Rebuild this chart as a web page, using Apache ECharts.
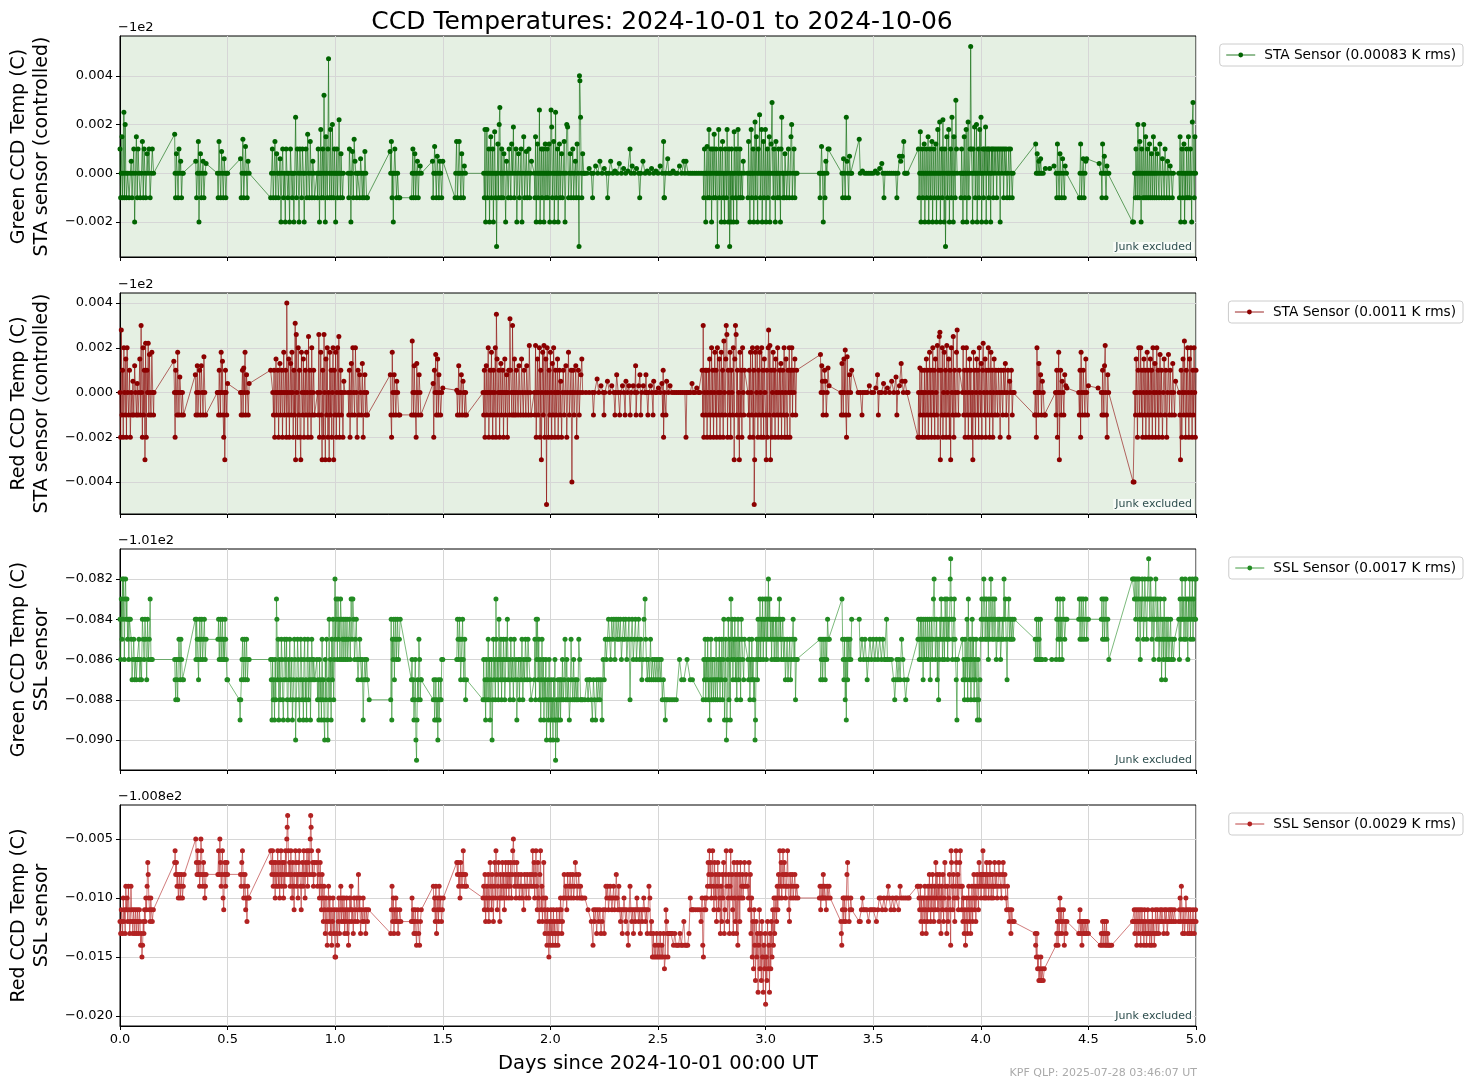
<!DOCTYPE html>
<html>
<head>
<meta charset="utf-8">
<title>CCD Temperatures</title>
<script src="https://cdn.jsdelivr.net/npm/echarts@6.0.0/dist/echarts.min.js"></script>
<style>
  html, body { margin: 0; padding: 0; background: #fff; }
  #chart { width: 1469px; height: 1089px; }
</style>
</head>
<body>
<div id="chart"></div>
<script>
// values are [days, offset in mK] ; the offset is relative to the axis offset text (-1e2, -1e2, -1.01e2, -1.008e2)
const greenStaData = [
  [0.000,1],[0.003,-1],[0.006,0],[0.009,1.5],[0.012,-1],[0.015,0],[0.018,2.5],[0.021,-1],[0.024,2],[0.027,0],[0.030,-1],[0.036,0],[0.042,-1],[0.048,0],[0.052,0.5],[0.056,-1],[0.060,0],[0.064,1],[0.068,-2],[0.072,0],[0.076,1.5],[0.080,-1],[0.084,1],[0.088,0],[0.094,-1],[0.100,0],[0.104,1.3],[0.108,-1],[0.112,1],[0.116,0],[0.120,-1],[0.126,0.8],[0.130,0],[0.135,1],[0.140,-1],[0.145,0],[0.150,1],[0.156,0],
  [0.254,1.6],[0.256,0],[0.258,-1],[0.262,0.8],[0.266,0],[0.270,-1],[0.274,1],[0.278,0],[0.282,0.5],[0.286,-1],[0.290,0],[0.294,0],
  [0.352,0.5],[0.356,-1],[0.360,0],[0.364,1.3],[0.367,-2],[0.370,0],[0.374,0.8],[0.378,-1],[0.382,0],[0.386,0.5],[0.390,-1],[0.395,0],[0.400,0.4],
  [0.453,0],[0.456,-1],[0.460,1.3],[0.464,0],[0.468,-1],[0.472,0.9],[0.476,0],[0.480,-1],[0.484,0.6],[0.488,0],[0.492,-1],[0.496,0],[0.500,0],
  [0.560,0.6],[0.563,-1],[0.567,0],[0.571,1.4],[0.575,-1],[0.579,0],[0.583,1.1],[0.587,0],[0.591,-1],[0.595,0.5],[0.600,0],
  [0.700,-1],[0.704,0],[0.708,1],[0.712,-1],[0.716,0],[0.720,1.3],[0.724,-1],[0.728,0.8],[0.732,0],[0.736,-1],[0.740,0],[0.744,0.6],[0.748,-2],[0.752,0],[0.756,1],[0.760,-1],[0.764,0],[0.768,-2],[0.772,1],[0.776,0],[0.780,-1],[0.784,0],[0.788,-2],[0.792,1],[0.796,0],[0.800,-1],[0.804,0],[0.808,-2],[0.812,0],[0.816,2.3],[0.820,-1],[0.824,1],[0.828,0],[0.832,-2],[0.836,1],[0.840,0],[0.844,-1],[0.848,1],[0.852,0],[0.856,-2],[0.860,0],[0.864,1],[0.868,-1],[0.872,1.6],[0.876,0],[0.880,-1],[0.884,1.3],[0.888,0],[0.892,-1],[0.896,0.5],[0.900,0],[0.904,-1],
  [0.915,0],[0.918,-1],[0.921,1],[0.924,0],[0.927,-2],[0.930,0],[0.933,1.8],[0.936,-1],[0.939,0],[0.942,1],[0.945,-1],[0.948,3.2],[0.951,0],[0.954,-2],[0.957,1.5],[0.960,0],[0.963,-1],[0.966,1],[0.969,4.7],[0.972,0],[0.975,-1],[0.978,1.8],[0.981,0],[0.984,-1],[0.987,2],[0.990,0],[0.993,-1],[0.996,1],[0.999,0],[1.002,-2],[1.005,0],[1.008,1],[1.011,-1],[1.014,0],[1.018,2.2],[1.021,0],[1.024,-1],[1.027,0.8],[1.030,0],[1.034,-1],[1.038,0],
  [1.060,0],[1.063,-1],[1.066,1],[1.070,0],[1.073,-2],[1.076,0],[1.080,0.9],[1.084,-1],[1.088,1.4],[1.092,0.5],[1.096,0],[1.100,-1],[1.104,0],[1.110,0],[1.114,-1],[1.118,0.6],[1.122,0],[1.126,-1],[1.130,0],[1.134,-1],[1.138,0.9],[1.142,0],[1.146,-1],[1.150,-1],
  [1.255,0.9],[1.258,0],[1.261,1.3],[1.264,-1],[1.267,0],[1.270,-2],[1.273,0],[1.277,1],[1.281,0],[1.285,-1],[1.290,0],[1.295,-1],[1.300,-1],[1.355,-1],
  [1.358,0],[1.361,1],[1.364,-1],[1.367,0],[1.370,0.8],[1.374,-1],[1.378,0],[1.382,0.5],[1.386,-1],[1.390,0],[1.395,0.3],[1.400,0],
  [1.452,0.5],[1.455,-1],[1.458,0],[1.462,1.1],[1.466,0],[1.470,-1],[1.474,0.7],[1.478,0],[1.482,-1],[1.486,0.5],[1.490,0],[1.495,-1],[1.500,0.5],
  [1.557,-1],[1.560,0],[1.564,1.3],[1.568,-1],[1.572,0],[1.576,1.3],[1.580,0],[1.584,-1],[1.588,0.8],[1.592,0],[1.596,-1],[1.600,0.3],[1.605,0],
  [1.690,0],[1.693,-1],[1.696,1.8],[1.699,-2],[1.702,0],[1.705,1.8],[1.708,-1],[1.711,0],[1.714,1],[1.717,-2],[1.720,0],[1.723,1.5],[1.726,-1],[1.729,0],[1.732,1],[1.735,-2],[1.738,0],[1.741,1.7],[1.744,-1],[1.747,0],[1.750,-3],[1.753,0],[1.756,1.2],[1.759,-1],[1.762,2],[1.765,2.7],[1.768,0],[1.771,-1],[1.774,1],[1.777,0],[1.780,-1],[1.784,0.8],[1.788,0],[1.792,-2],[1.796,0.5],[1.800,0],[1.804,-1],[1.808,1],[1.812,0],[1.816,-1],[1.820,1.2],[1.824,0],[1.828,1.9],[1.832,-1],[1.836,0],[1.840,1],[1.844,-2],[1.848,0],[1.852,0.8],[1.856,-1],[1.860,0],[1.864,1],[1.868,-2],[1.872,0],[1.876,1.5],[1.880,-1],[1.884,0],[1.888,0.9],[1.892,-1],[1.896,0],[1.900,1],[1.904,-1],[1.908,0],[1.912,0.5],
  [1.925,0],[1.928,-1],[1.931,1.5],[1.934,-2],[1.937,0],[1.940,1.2],[1.943,-1],[1.946,0],[1.949,2.6],[1.952,-2],[1.955,0],[1.958,1],[1.961,-1],[1.964,0],[1.967,1],[1.970,-2],[1.973,0],[1.976,1.2],[1.979,-1],[1.982,0],[1.985,1],[1.988,-1],[1.991,0],[1.994,1.2],[1.997,-2],[2.000,0],[2.003,2.6],[2.006,1.9],[2.009,-1],[2.012,0],[2.015,1.3],[2.018,-2],[2.021,0],[2.024,2.5],[2.027,-1],[2.030,0],[2.033,1],[2.036,-2],[2.039,0],[2.042,1.2],[2.045,-1],[2.048,0],[2.052,0.8],[2.056,-1],[2.060,0],[2.064,1.3],[2.068,-2],[2.072,0],[2.076,2],[2.080,1.9],[2.084,-1],[2.088,0],[2.092,0.8],[2.096,-1],[2.100,0],[2.104,1],[2.108,-1],[2.112,0],[2.116,0.5],[2.120,-1],[2.124,1.2],[2.128,0],[2.131,-1],[2.133,-3],[2.135,4],[2.137,3.8],[2.140,2.3],[2.143,0],[2.146,-1],[2.150,0.8],[2.155,0],[2.160,0],
  [2.170,0],[2.180,0.2],[2.190,0],[2.196,-1],[2.200,0],[2.210,0.3],[2.220,0],[2.230,0.5],[2.240,0],[2.250,0.2],[2.260,0],[2.266,-1],[2.272,0],[2.280,0.5],[2.290,0],[2.300,0.1],[2.310,0],[2.320,0.4],[2.330,0],[2.340,0.2],[2.350,0],[2.360,0.1],[2.370,1],[2.375,0],[2.380,0.3],[2.390,0],[2.400,0.2],[2.410,0],[2.415,-1],[2.420,0],[2.430,0.5],[2.440,0],[2.450,0.1],[2.460,0],[2.470,0.2],[2.480,0],[2.490,0.1],[2.500,0],[2.510,0.3],[2.520,0],[2.526,1.3],[2.528,-1],[2.530,-1],[2.535,0],[2.545,0.6],[2.550,0],[2.560,0],[2.570,0.1],[2.580,0],[2.590,0],[2.600,0.3],[2.610,0],[2.620,0.5],[2.625,0],[2.630,0.5],[2.640,0],[2.650,0],[2.660,0],[2.670,0],[2.680,0],[2.690,0],[2.700,0],
  [2.710,0],[2.713,-1],[2.716,1],[2.719,0],[2.722,-2],[2.725,0],[2.728,1.1],[2.731,-1],[2.734,0],[2.737,1.8],[2.740,-1],[2.743,0],[2.746,1],[2.749,-2],[2.752,0],[2.755,1],[2.758,-1],[2.761,1.6],[2.764,0],[2.767,-1],[2.770,1],[2.773,0],[2.776,-3],[2.779,0],[2.782,1.8],[2.785,-1],[2.788,0],[2.791,1],[2.794,-2],[2.797,0],[2.800,1.3],[2.803,-1],[2.806,0],[2.809,-2],[2.812,1],[2.815,0],[2.818,-1],[2.821,1.8],[2.824,0],[2.827,-2],[2.830,1],[2.833,-3],[2.836,0],[2.839,-2],[2.842,1],[2.845,-1],[2.848,0],[2.851,-2],[2.854,1.7],[2.857,0],[2.860,-1],[2.863,1],[2.866,-2],[2.869,0],[2.872,1.8],[2.875,-1],[2.878,0],[2.881,1],[2.884,-1],[2.888,0],[2.892,-1],[2.896,0.5],[2.900,0],
  [2.915,0],[2.918,-1],[2.921,1.3],[2.924,0],[2.927,-2],[2.930,0],[2.933,1.8],[2.936,-1],[2.939,0],[2.942,1],[2.945,-2],[2.948,0],[2.951,2.1],[2.954,-1],[2.957,1.5],[2.960,0],[2.963,-2],[2.966,1],[2.969,0],[2.972,2.4],[2.975,-1],[2.978,0],[2.981,1.8],[2.984,-2],[2.987,0],[2.990,1.3],[2.993,-1],[2.996,0],[2.999,1.8],[3.002,-2],[3.005,0],[3.008,1],[3.011,-1],[3.014,0],[3.017,1.5],[3.020,-2],[3.023,0],[3.026,1.2],[3.030,2.9],[3.033,0],[3.036,-1],[3.039,1],[3.042,0],[3.045,-2],[3.048,1.3],[3.051,0],[3.054,-1],[3.057,0],[3.060,1],[3.063,-1],[3.066,0],[3.069,-2],[3.072,1],[3.075,2.3],[3.078,0],[3.081,-1],[3.084,0],[3.087,-1],[3.090,0.8],[3.094,0],[3.098,-1],[3.102,0],[3.106,1],[3.110,-1],[3.114,0],[3.118,1.5],[3.121,2],[3.124,-1],[3.128,0],[3.132,1],[3.136,-1],[3.140,0],[3.146,0],
  [3.250,0],[3.253,-1],[3.256,0],[3.260,1.1],[3.264,0],[3.268,-2],[3.272,0],[3.276,-1],[3.280,0.5],[3.285,0],[3.290,1],[3.295,1],
  [3.355,0],[3.358,-1],[3.362,0.6],[3.366,0],[3.370,-1],[3.375,2.3],[3.378,0.5],[3.382,0],[3.386,-1],[3.390,0.7],[3.395,0],[3.400,0],[3.435,1.4],
  [3.440,0],[3.450,0.1],[3.460,0],[3.470,0],[3.480,0],[3.490,0],[3.500,0],[3.510,0.1],[3.520,0],[3.530,0.2],[3.540,0.4],[3.545,0],[3.550,-1],[3.555,0],[3.565,0],[3.575,0],[3.585,0],[3.595,0],[3.605,0],[3.610,-1],[3.615,0],[3.622,0.7],[3.628,0.5],[3.635,0.7],[3.642,1.3],[3.646,0],[3.652,0],[3.658,0],
  [3.710,1],[3.713,-1],[3.716,0],[3.719,1.7],[3.722,-2],[3.725,0],[3.728,1],[3.731,-1],[3.734,0],[3.737,1.2],[3.740,-2],[3.743,0],[3.746,1],[3.749,-1],[3.752,0],[3.755,1.5],[3.758,-2],[3.761,0],[3.764,1],[3.767,-1],[3.770,0],[3.773,1.3],[3.776,-2],[3.779,0],[3.782,1],[3.785,-1],[3.788,0],[3.791,1.2],[3.794,-2],[3.797,0],[3.800,1.8],[3.803,-1],[3.806,0],[3.809,2.1],[3.812,-2],[3.815,0],[3.818,1],[3.821,-1],[3.824,2.2],[3.827,0],[3.830,-2],[3.833,1],[3.836,-3],[3.839,0],[3.842,1.5],[3.845,-1],[3.848,0],[3.851,1.8],[3.854,-2],[3.857,0],[3.860,1],[3.863,-1],[3.866,2.3],[3.869,0],[3.872,-2],[3.875,1.5],[3.878,0],[3.881,-1],[3.884,3],[3.887,1],[3.890,0],
  [3.905,0],[3.908,-1],[3.911,1],[3.914,0],[3.917,-2],[3.920,0],[3.923,1.5],[3.926,-1],[3.929,0],[3.932,1.8],[3.935,-2],[3.938,0],[3.941,2.1],[3.944,-1],[3.947,0],[3.950,1],[3.953,5.2],[3.956,1],[3.959,0],[3.962,-2],[3.965,1],[3.968,0],[3.971,1.9],[3.974,-1],[3.977,0],[3.980,2],[3.983,-2],[3.986,0],[3.989,1],[3.992,-1],[3.995,1.8],[3.998,0],[4.001,2.3],[4.004,-2],[4.007,0],[4.010,1],[4.013,-1],[4.016,1],[4.019,0],[4.022,1.9],[4.025,-2],[4.028,1],[4.031,0],[4.034,1],[4.037,-1],[4.040,1],[4.043,0],[4.046,-2],[4.049,1],[4.052,0],[4.055,1],[4.058,-1],[4.062,1],[4.066,0],[4.070,1],[4.074,-1],[4.078,1],[4.082,0],[4.086,1],[4.090,-2],[4.094,1],[4.098,0],[4.102,1],[4.106,-1],[4.110,1],[4.114,0],[4.118,1],[4.122,-1],[4.126,0],[4.130,1],[4.134,-1],[4.138,1],[4.142,0],[4.146,-1],[4.150,0],
  [4.255,1.2],[4.258,0],[4.262,0.8],[4.266,0],[4.270,0.5],[4.274,0],[4.278,0.6],[4.282,0],[4.290,0],[4.300,0.2],[4.320,0.2],[4.340,0.3],
  [4.350,0],[4.353,-1],[4.356,1.2],[4.360,0],[4.364,-1],[4.368,0.8],[4.372,0],[4.376,-1],[4.380,0.6],[4.384,0],[4.388,-1],[4.392,0.3],[4.398,0],
  [4.458,-1],[4.461,0],[4.464,1.2],[4.468,-1],[4.472,0],[4.476,0.6],[4.480,-1],[4.484,0],[4.488,0.5],[4.492,0.6],[4.550,0.4],
  [4.560,0],[4.563,-1],[4.566,1.2],[4.570,0],[4.574,0.7],[4.578,0],[4.582,-1],[4.586,0.3],[4.590,0],[4.595,0],[4.705,-2],[4.710,-2],
  [4.715,0],[4.718,-1],[4.721,1],[4.724,0],[4.727,-1],[4.730,2],[4.733,0],[4.736,-1],[4.739,1.3],[4.742,0],[4.745,-2],[4.748,1],[4.751,0],[4.754,-1],[4.757,2],[4.760,0],[4.763,-1],[4.766,1.5],[4.769,0],[4.772,-1],[4.775,1],[4.778,0],[4.781,-1],[4.784,1.2],[4.787,0],[4.790,-1],[4.793,0.8],[4.796,0],[4.799,-1],[4.802,1.5],[4.805,0],[4.808,-1],[4.811,1],[4.814,0],[4.817,-1],[4.820,0.8],[4.824,0],[4.828,-1],[4.832,1.2],[4.836,0],[4.840,-1],[4.844,0.6],[4.848,0],[4.852,-1],[4.856,1],[4.860,0],[4.864,-1],[4.868,0.5],[4.872,0],[4.876,-1],[4.880,0.3],[4.885,0],[4.890,-1],[4.895,0],
  [4.920,0],[4.923,-1],[4.926,1.5],[4.929,-2],[4.932,0],[4.935,1],[4.938,-1],[4.941,0],[4.944,1.2],[4.947,-2],[4.950,0],[4.953,-1],[4.956,1],[4.959,0],[4.962,-1],[4.965,1.5],[4.968,0],[4.971,-1],[4.974,1],[4.977,0],[4.980,-2],[4.983,2.1],[4.986,2.9],[4.989,0],[4.992,-1],[4.995,1.5],[4.998,0]
];

const redStaData = [
  [0.000,0],[0.003,-2],[0.006,2.8],[0.009,-1],[0.012,1],[0.015,-2],[0.018,2],[0.021,0],[0.024,-1],[0.027,1.5],[0.030,-2],[0.033,2],[0.036,0],[0.040,-1],[0.044,1],[0.048,-2],[0.052,0],[0.056,-1],[0.060,0.5],[0.064,-1],[0.068,1.2],[0.072,0],[0.076,-1],[0.080,0.4],[0.084,-1],[0.088,0],[0.092,1.5],[0.095,-1],[0.098,3],[0.101,0],[0.104,-2],[0.107,2],[0.110,-1],[0.113,1],[0.116,-3],[0.119,2.2],[0.122,-2],[0.125,1],[0.128,0],[0.131,2.2],[0.134,-1],[0.137,1.7],[0.140,0],[0.144,-1],[0.148,1.8],[0.152,0],[0.156,-1],[0.158,0],
  [0.250,1.4],[0.253,0],[0.256,-2],[0.259,1],[0.262,0],[0.265,-1],[0.268,1.8],[0.271,0],[0.274,-1],[0.278,0.7],[0.282,0],[0.286,-1],[0.290,0],[0.295,-1],
  [0.350,0.8],[0.353,-1],[0.356,0],[0.359,1.2],[0.362,-1],[0.366,0],[0.370,1],[0.374,-1],[0.378,1.2],[0.382,0],[0.386,-1],[0.390,1.6],[0.394,0],[0.398,-1],
  [0.452,0],[0.455,0],[0.458,-1],[0.461,1],[0.464,0],[0.467,-1],[0.470,1.8],[0.473,0],[0.476,1.4],[0.479,-1],[0.482,-2],[0.485,0],[0.487,-3],[0.490,1],[0.493,0],[0.496,-1],[0.500,0.4],
  [0.560,0],[0.563,-1],[0.566,0],[0.569,1],[0.572,-1],[0.575,1.1],[0.578,0],[0.581,1.8],[0.584,-1],[0.588,0.8],[0.592,0],[0.596,-1],[0.600,0.4],
  [0.700,1],[0.710,0],[0.713,-1],[0.716,1],[0.719,-2],[0.722,0],[0.725,1.5],[0.728,-1],[0.731,0],[0.734,1],[0.737,-2],[0.740,0],[0.743,1.3],[0.746,-1],[0.749,0],[0.752,1],[0.755,-2],[0.758,0],[0.761,1.8],[0.764,-1],[0.767,0],[0.770,1],[0.773,-2],[0.775,4],[0.778,0],[0.781,-1],[0.784,1.5],[0.787,-2],[0.790,0],[0.793,1.3],[0.796,-1],[0.799,1.8],[0.802,0],[0.805,-2],[0.808,1],[0.811,-1],[0.814,3.1],[0.816,-3],[0.819,2.6],[0.822,0],[0.825,-2],[0.828,2],[0.831,-1],[0.834,1],[0.837,-2],[0.840,-3],[0.843,1.8],[0.846,0],[0.849,-1],[0.852,1.5],[0.855,-2],[0.858,0],[0.861,1],[0.864,-1],[0.867,1.8],[0.870,0],[0.873,-2],[0.876,2.5],[0.879,-1],[0.882,1],[0.885,0],[0.888,-2],[0.891,2],[0.894,-1],[0.897,0],[0.900,1],[0.904,-1],
  [0.918,0],[0.921,-1],[0.924,2.6],[0.927,-2],[0.930,0],[0.933,1.8],[0.936,-1],[0.939,-3],[0.942,1],[0.945,-2],[0.948,2.6],[0.951,0],[0.954,-3],[0.957,1.5],[0.960,-1],[0.963,2],[0.966,-2],[0.969,0],[0.972,-3],[0.975,1.8],[0.978,-1],[0.981,1],[0.984,-2],[0.987,0],[0.990,2],[0.993,-3],[0.996,1],[0.999,-1],[1.002,1.8],[1.005,-2],[1.008,0],[1.011,2],[1.014,-1],[1.017,2.5],[1.020,-2],[1.023,0],[1.026,1],[1.029,-1],[1.032,0],[1.036,-2],[1.040,0.5],[1.045,0],
  [1.060,0],[1.063,-1],[1.066,1],[1.069,-2],[1.072,0],[1.075,1.3],[1.078,-1],[1.082,2],[1.086,0],[1.090,-1],[1.094,2],[1.098,0],[1.102,-2],[1.106,1],[1.110,-1],[1.114,0.8],[1.118,0],[1.122,-1],[1.126,1.3],[1.130,-2],[1.134,0],[1.138,0.8],[1.142,-1],[1.146,0],[1.150,-1],
  [1.256,0.8],[1.259,-1],[1.262,-2],[1.265,1.8],[1.268,0],[1.271,-1],[1.274,0.8],[1.278,0],[1.282,-1],[1.286,0.5],[1.290,0],[1.295,-1],[1.300,-1],[1.355,-1],
  [1.358,2.3],[1.361,0],[1.364,-1],[1.367,1.2],[1.370,0],[1.373,-1],[1.376,-2],[1.379,1.3],[1.382,0],[1.386,-1],[1.390,0.8],[1.394,0],[1.398,-1],
  [1.455,0.4],[1.458,-2],[1.461,1],[1.464,0],[1.467,1.7],[1.470,-1],[1.473,0],[1.476,1.5],[1.479,-1],[1.482,0.8],[1.486,0],[1.490,-1],[1.495,0],[1.500,0.2],
  [1.565,0.1],[1.568,-1],[1.571,0],[1.574,1.2],[1.578,-1],[1.582,0],[1.586,0.8],[1.590,-1],[1.594,0.5],[1.598,0],[1.602,-1],[1.606,0],[1.610,-1],
  [1.687,0],[1.690,-1],[1.693,1],[1.696,-2],[1.699,0],[1.702,1.2],[1.705,-1],[1.708,0],[1.711,2],[1.714,-2],[1.717,0],[1.720,1],[1.723,-1],[1.726,1.8],[1.729,0],[1.732,-2],[1.735,1],[1.738,-1],[1.741,0],[1.744,2],[1.747,-2],[1.749,3.5],[1.752,1.5],[1.755,-1],[1.758,0],[1.761,1],[1.764,-2],[1.767,0],[1.770,1.3],[1.773,-1],[1.776,0],[1.779,1],[1.782,-2],[1.785,0],[1.788,1.5],[1.791,-1],[1.794,0],[1.797,0.8],[1.800,-2],[1.803,0],[1.806,1],[1.809,-1],[1.812,3.3],[1.815,1],[1.818,0],[1.821,-1],[1.824,3],[1.827,0],[1.830,-1],[1.833,1.5],[1.836,0],[1.839,-1],[1.842,1],[1.846,0],[1.850,-1],[1.854,1.2],[1.858,0],[1.862,-1],[1.866,1.5],[1.870,0],[1.874,-1],[1.878,1],[1.882,0],[1.886,-1],[1.890,1.2],[1.894,0],[1.898,-1],[1.902,2.1],[1.906,0],[1.910,-1],
  [1.925,0],[1.928,-1],[1.931,2.1],[1.934,-2],[1.937,0],[1.940,1.5],[1.943,-1],[1.946,0],[1.949,2],[1.952,-2],[1.955,1],[1.958,-3],[1.961,0],[1.964,1.8],[1.967,-1],[1.970,2.1],[1.973,-2],[1.976,0],[1.979,1.5],[1.982,-5],[1.985,2],[1.988,0],[1.991,-2],[1.994,1],[1.997,-1],[2.000,1.8],[2.003,0],[2.006,-2],[2.009,1.3],[2.012,-1],[2.015,2],[2.018,0],[2.021,-2],[2.024,1],[2.027,-1],[2.030,0],[2.033,1.5],[2.036,-2],[2.039,0],[2.042,1],[2.045,-1],[2.048,0.5],[2.052,-2],[2.056,0],[2.060,1],[2.064,-1],[2.068,0],[2.072,1.2],[2.076,-2],[2.080,0],[2.084,1.8],[2.088,-1],[2.092,0],[2.096,1],[2.100,-4],[2.103,0],[2.106,1],[2.110,-1],[2.114,0],[2.118,1.2],[2.122,-2],[2.126,0],[2.130,1],[2.134,-1],[2.138,0],[2.142,0.8],[2.146,1.5],[2.150,0],
  [2.165,0],[2.180,0],[2.195,0],[2.200,-1],[2.205,0],[2.217,0.6],[2.225,0],[2.235,0.3],[2.245,0],[2.249,-1],[2.253,0],[2.265,0.5],[2.275,0],[2.285,0.3],[2.295,0],[2.300,-1],[2.304,0],[2.308,0.8],[2.315,0],[2.322,-1],[2.326,0],[2.335,0.3],[2.342,0],[2.347,-1],[2.351,0.5],[2.358,0],[2.365,0.3],[2.371,-1],[2.375,0],[2.385,0.3],[2.392,0],[2.396,1.2],[2.398,-1],[2.402,0],[2.410,0.3],[2.416,0.8],[2.420,-1],[2.424,0],[2.432,0.3],[2.440,0],[2.444,0.8],[2.448,0],[2.453,-1],[2.457,0],[2.465,0.3],[2.472,0],[2.477,-1],[2.480,0.5],[2.487,0],[2.495,0],[2.502,0.2],[2.510,0],[2.518,0.4],[2.522,-1],[2.524,1],[2.526,-2],[2.530,0],[2.537,-1],[2.540,0.5],[2.548,0],[2.556,0.3],[2.565,0],[2.575,0],[2.585,0],[2.595,0],[2.605,0],[2.615,0],[2.625,0],[2.630,-2],[2.634,0],[2.642,0],[2.650,0],[2.658,0.4],[2.664,0],[2.672,0],[2.680,0.2],[2.688,0],[2.695,0],[2.705,1],
  [2.708,-1],[2.710,3],[2.713,-2],[2.716,0],[2.719,1],[2.722,-1],[2.725,1],[2.728,-2],[2.731,0],[2.734,1],[2.737,-1],[2.740,1.5],[2.743,-2],[2.746,0],[2.749,2],[2.752,-1],[2.755,1],[2.758,-2],[2.761,0],[2.764,1.8],[2.767,-1],[2.770,1],[2.773,-2],[2.776,2],[2.779,0],[2.782,-1],[2.785,1.5],[2.788,-2],[2.791,0],[2.794,1.8],[2.797,-1],[2.800,1],[2.803,-2],[2.806,2.3],[2.809,0],[2.812,-1],[2.815,1.5],[2.817,3],[2.820,2.6],[2.823,-2],[2.826,1],[2.829,0],[2.832,-1],[2.835,1.8],[2.838,-2],[2.841,1],[2.844,0],[2.847,-1],[2.850,2],[2.854,-3],[2.857,1.5],[2.860,3],[2.863,2.6],[2.866,-1],[2.869,1],[2.872,-2],[2.875,0],[2.878,-3],[2.881,1.8],[2.884,-1],[2.887,1],[2.890,-2],[2.893,2],[2.896,0],[2.899,-1],[2.902,1],
  [2.918,0],[2.921,-1],[2.924,1],[2.927,-2],[2.930,1.8],[2.933,0],[2.936,-1],[2.939,2],[2.942,-2],[2.945,1],[2.947,-5],[2.949,-3],[2.952,1.8],[2.955,-1],[2.958,0],[2.961,2],[2.964,-2],[2.967,1],[2.970,-1],[2.973,1.8],[2.976,0],[2.979,-2],[2.982,2],[2.985,-1],[2.988,1],[2.991,-2],[2.994,1.5],[2.997,0],[3.000,-1],[3.003,-3],[3.006,1],[3.009,-2],[3.012,2],[3.014,2.8],[3.017,-1],[3.020,2.1],[3.023,-3],[3.026,1],[3.029,-2],[3.032,0],[3.035,1.8],[3.038,-1],[3.041,1],[3.044,-2],[3.047,1.5],[3.050,0],[3.053,-1],[3.056,2],[3.059,-2],[3.062,0],[3.065,1],[3.068,-1],[3.071,1.3],[3.074,-2],[3.077,0],[3.080,1],[3.083,-1],[3.086,2],[3.089,-2],[3.092,0],[3.095,1.5],[3.098,-1],[3.101,-2],[3.104,1],[3.107,0],[3.110,2],[3.113,-2],[3.116,1],[3.119,0],[3.122,2],[3.125,-1],[3.128,1],[3.132,0],[3.136,1.5],[3.140,-1],[3.144,1],
  [3.255,1.7],[3.258,0],[3.261,1.2],[3.264,0.5],[3.267,-1],[3.270,0],[3.274,1],[3.278,0.5],[3.282,-1],[3.286,0],[3.290,1.1],[3.295,0.3],
  [3.350,0],[3.352,-1],[3.355,1.3],[3.358,0],[3.361,-1],[3.364,1.5],[3.367,0],[3.370,1.9],[3.373,-1],[3.376,-2],[3.379,1.6],[3.382,0],[3.386,-1],[3.390,0.8],[3.395,0],[3.400,1],
  [3.430,0],[3.440,0],[3.448,-1],[3.452,0],[3.462,0],[3.472,0],[3.482,0.3],[3.492,0],[3.502,0],[3.512,0.2],[3.520,0.8],[3.524,-1],[3.528,0],[3.538,0],[3.548,0.4],[3.556,0],[3.566,0.2],[3.576,0],[3.586,0.5],[3.596,0],[3.606,0.7],[3.610,-1],[3.614,0],[3.622,0.3],[3.630,1.3],[3.634,0.5],[3.640,0],[3.648,0.5],[3.656,0],[3.662,0],
  [3.708,-2],[3.711,0],[3.714,-2],[3.717,1.1],[3.720,-1],[3.723,0],[3.726,1],[3.729,-2],[3.732,0],[3.735,-1],[3.738,1],[3.741,-2],[3.744,0],[3.747,1.5],[3.750,-1],[3.753,1],[3.756,-2],[3.759,0],[3.762,1.8],[3.765,-1],[3.768,1],[3.771,-2],[3.774,0],[3.777,2],[3.780,-1],[3.783,1],[3.786,-2],[3.789,1.5],[3.792,0],[3.795,-1],[3.798,2.1],[3.801,-2],[3.804,1],[3.807,2.5],[3.810,2.7],[3.812,-3],[3.815,1],[3.818,-1],[3.821,2],[3.824,-2],[3.827,0],[3.830,1.8],[3.833,-1],[3.836,1],[3.839,-2],[3.842,2.1],[3.845,0],[3.848,-1],[3.851,1.5],[3.854,-2],[3.857,1],[3.860,-3],[3.863,2],[3.866,0],[3.869,-1],[3.872,2.5],[3.875,-2],[3.878,1],[3.881,0],[3.884,-1],[3.887,1.8],[3.890,2.8],[3.893,0],[3.896,-1],[3.900,1],
  [3.915,0],[3.918,2],[3.921,-1],[3.924,1],[3.927,-2],[3.930,0],[3.933,2],[3.936,-1],[3.939,1],[3.942,-2],[3.945,0],[3.948,1.5],[3.951,-1],[3.954,1],[3.957,-2],[3.960,0],[3.963,-3],[3.966,1.8],[3.969,-1],[3.972,1],[3.975,-2],[3.978,0],[3.981,1.5],[3.984,-1],[3.987,1],[3.990,-2],[3.993,2],[3.996,0],[3.999,-1],[4.002,1.3],[4.005,-2],[4.008,1],[4.011,2.2],[4.014,0],[4.017,-1],[4.020,1.5],[4.023,-2],[4.026,1],[4.029,0],[4.032,-1],[4.035,2],[4.038,1],[4.041,-2],[4.044,0],[4.047,1.8],[4.050,-1],[4.053,1],[4.056,-2],[4.059,0],[4.062,1.5],[4.066,-1],[4.070,1],[4.074,0],[4.078,-1],[4.082,1],[4.086,0],[4.090,-2],[4.094,1],[4.098,0],[4.102,-1],[4.106,1],[4.110,0],[4.114,1.3],[4.118,-1],[4.122,0],[4.126,1],[4.130,-2],[4.134,0.5],[4.138,0],[4.142,1],[4.146,-1],[4.150,0],[4.155,0],
  [4.250,-1],[4.253,0],[4.256,-1],[4.258,-2],[4.261,2],[4.264,0],[4.267,-1],[4.270,1.3],[4.274,0],[4.278,0.8],[4.282,-1],[4.286,0.5],[4.290,0],[4.295,-1],[4.300,-1],
  [4.347,0],[4.350,-1],[4.353,1],[4.356,-2],[4.359,0],[4.362,1.8],[4.365,-3],[4.368,0],[4.371,1],[4.374,-1],[4.378,0.5],[4.382,0],[4.386,-1],[4.390,0.8],[4.395,0.3],[4.400,0.2],
  [4.455,0],[4.458,-1],[4.461,1],[4.464,-2],[4.466,1.8],[4.469,0],[4.472,-1],[4.476,1],[4.480,0],[4.484,-1],[4.488,1.5],[4.492,0],[4.496,-1],[4.500,0.3],[4.545,0.2],
  [4.560,0],[4.563,-1],[4.566,1],[4.569,0],[4.572,-1],[4.575,1.2],[4.578,2.1],[4.581,0],[4.584,-1],[4.587,-2],[4.590,0.8],[4.594,0],[4.708,-4],[4.712,-4],
  [4.716,0],[4.719,-1],[4.722,1.5],[4.725,0],[4.728,-2],[4.731,1],[4.734,2],[4.737,-1],[4.740,0],[4.743,2],[4.746,-1],[4.749,1],[4.752,-2],[4.755,0],[4.758,1.5],[4.761,-1],[4.764,1],[4.767,-2],[4.770,0],[4.773,1.8],[4.776,-1],[4.779,1],[4.782,-2],[4.785,0],[4.788,1.5],[4.791,-1],[4.794,1],[4.797,-2],[4.800,2],[4.803,0],[4.806,-1],[4.809,1.3],[4.812,-2],[4.815,0],[4.818,2],[4.821,-1],[4.824,1],[4.827,-2],[4.830,0],[4.833,1.7],[4.836,-1],[4.840,1],[4.844,-2],[4.848,0],[4.852,1.5],[4.856,-1],[4.860,1],[4.864,-2],[4.868,0],[4.872,1.7],[4.876,-1],[4.880,1],[4.884,0],[4.888,-1],[4.892,1.3],[4.896,0],[4.900,-1],[4.905,0.5],
  [4.922,0],[4.925,-1],[4.928,-3],[4.931,1],[4.934,-2],[4.937,0],[4.940,1.5],[4.943,-1],[4.946,2.3],[4.949,0],[4.952,-2],[4.955,1],[4.958,-1],[4.961,2],[4.964,0],[4.967,-2],[4.970,1.5],[4.973,-1],[4.976,2],[4.979,0],[4.982,-2],[4.985,1],[4.988,-1],[4.991,2],[4.994,0],[4.997,-2],[5.000,1]
];

const greenSslData = [
  [0.000,-84],[0.003,-86],[0.006,-83],[0.009,-85],[0.011,-82],[0.014,-84],[0.017,-82],[0.020,-86],[0.023,-83],[0.026,-82],[0.029,-84],[0.032,-83],[0.035,-85],[0.038,-84],[0.041,-86],[0.044,-84],[0.048,-84],[0.052,-85],[0.056,-87],[0.060,-86],[0.064,-85],[0.068,-87],[0.072,-86],[0.076,-87],[0.080,-86],[0.084,-86],[0.088,-85],[0.092,-87],[0.096,-86],[0.100,-87],[0.104,-84],[0.108,-85],[0.112,-86],[0.116,-84],[0.120,-85],[0.124,-87],[0.128,-84],[0.132,-86],[0.136,-85],[0.140,-83],[0.144,-86],[0.150,-86],
  [0.254,-86],[0.256,-87],[0.259,-88],[0.262,-86],[0.265,-87],[0.268,-88],[0.271,-86],[0.274,-85],[0.277,-86],[0.280,-87],[0.283,-85],[0.286,-86],[0.290,-87],[0.295,-87],
  [0.350,-84],[0.353,-86],[0.356,-84],[0.359,-85],[0.362,-86],[0.365,-87],[0.368,-85],[0.371,-84],[0.374,-86],[0.377,-85],[0.380,-84],[0.384,-86],[0.388,-85],[0.392,-84],[0.396,-86],[0.400,-85],
  [0.455,-85],[0.458,-84],[0.461,-86],[0.464,-85],[0.467,-84],[0.470,-86],[0.473,-85],[0.476,-84],[0.479,-86],[0.482,-85],[0.485,-86],[0.488,-84],[0.491,-85],[0.494,-86],[0.497,-87],[0.500,-87],
  [0.555,-88],[0.558,-89],[0.561,-88],[0.564,-87],[0.567,-86],[0.570,-85],[0.573,-87],[0.576,-86],[0.579,-85],[0.582,-87],[0.585,-86],[0.588,-85],[0.592,-87],[0.596,-86],[0.600,-86],
  [0.700,-86],[0.703,-87],[0.706,-89],[0.709,-86],[0.712,-88],[0.715,-87],[0.718,-89],[0.721,-86],[0.724,-88],[0.727,-83],[0.729,-84],[0.732,-87],[0.735,-85],[0.738,-89],[0.741,-86],[0.744,-88],[0.747,-87],[0.750,-85],[0.753,-86],[0.756,-88],[0.759,-89],[0.762,-87],[0.765,-85],[0.768,-86],[0.771,-87],[0.774,-85],[0.777,-88],[0.780,-89],[0.783,-86],[0.786,-87],[0.789,-85],[0.792,-88],[0.795,-87],[0.798,-86],[0.801,-89],[0.804,-88],[0.807,-87],[0.810,-85],[0.813,-86],[0.816,-90],[0.819,-88],[0.822,-87],[0.825,-85],[0.828,-86],[0.831,-88],[0.834,-89],[0.837,-87],[0.840,-85],[0.843,-86],[0.846,-88],[0.849,-87],[0.852,-89],[0.855,-86],[0.858,-85],[0.861,-88],[0.864,-87],[0.867,-89],[0.870,-86],[0.873,-85],[0.876,-88],[0.879,-87],[0.882,-86],[0.885,-89],[0.888,-87],[0.891,-85],[0.894,-86],[0.897,-87],[0.900,-86],[0.905,-87],
  [0.915,-86],[0.918,-88],[0.921,-87],[0.924,-89],[0.927,-86],[0.930,-88],[0.933,-87],[0.936,-89],[0.939,-85],[0.942,-88],[0.945,-87],[0.948,-89],[0.951,-90],[0.954,-86],[0.957,-88],[0.960,-85],[0.963,-89],[0.966,-90],[0.969,-87],[0.972,-84],[0.975,-88],[0.978,-86],[0.981,-89],[0.984,-85],[0.987,-87],[0.990,-84],[0.993,-88],[0.996,-86],[0.999,-82],[1.001,-85],[1.004,-83],[1.007,-84],[1.010,-86],[1.013,-83],[1.016,-85],[1.019,-84],[1.022,-86],[1.025,-83],[1.028,-84],[1.031,-86],[1.034,-85],[1.037,-84],[1.040,-86],[1.043,-85],[1.046,-84],[1.049,-86],[1.052,-85],[1.055,-84],[1.058,-86],[1.062,-85],[1.066,-84],[1.070,-86],[1.074,-83],[1.078,-85],[1.082,-83],[1.086,-84],[1.090,-86],[1.094,-85],[1.098,-84],[1.102,-86],[1.106,-87],[1.110,-86],[1.114,-85],[1.118,-86],[1.122,-87],[1.126,-86],[1.130,-89],[1.134,-87],[1.138,-86],[1.142,-87],[1.146,-86],[1.150,-87],[1.158,-88],
  [1.258,-88],[1.260,-84],[1.263,-89],[1.266,-85],[1.269,-86],[1.272,-84],[1.275,-87],[1.278,-85],[1.281,-84],[1.284,-86],[1.287,-85],[1.290,-84],[1.294,-86],[1.298,-85],[1.302,-84],
  [1.354,-87],[1.357,-86],[1.360,-88],[1.363,-87],[1.366,-89],[1.369,-88],[1.372,-86],[1.375,-90],[1.378,-91],[1.380,-89],[1.383,-87],[1.386,-88],[1.389,-85],[1.392,-86],[1.395,-88],[1.398,-87],[1.400,-87],
  [1.456,-88],[1.459,-87],[1.462,-89],[1.465,-88],[1.468,-87],[1.471,-89],[1.474,-88],[1.477,-90],[1.480,-87],[1.483,-89],[1.486,-88],[1.489,-87],[1.492,-88],[1.495,-86],[1.500,-86],
  [1.565,-86],[1.568,-84],[1.571,-85],[1.574,-86],[1.577,-84],[1.580,-85],[1.583,-87],[1.586,-86],[1.589,-85],[1.592,-84],[1.595,-86],[1.598,-87],[1.602,-85],[1.606,-88],[1.610,-87],
  [1.687,-88],[1.690,-86],[1.693,-88],[1.696,-87],[1.699,-89],[1.702,-86],[1.705,-88],[1.708,-87],[1.711,-85],[1.714,-88],[1.717,-86],[1.720,-89],[1.723,-87],[1.726,-86],[1.729,-90],[1.732,-88],[1.735,-85],[1.738,-87],[1.741,-86],[1.744,-88],[1.747,-83],[1.749,-85],[1.752,-87],[1.755,-86],[1.758,-88],[1.761,-84],[1.764,-86],[1.767,-87],[1.770,-85],[1.773,-88],[1.776,-86],[1.779,-87],[1.782,-85],[1.785,-86],[1.788,-88],[1.791,-87],[1.794,-85],[1.797,-86],[1.800,-84],[1.804,-87],[1.808,-86],[1.812,-88],[1.816,-85],[1.820,-87],[1.824,-86],[1.828,-88],[1.832,-85],[1.836,-87],[1.840,-86],[1.844,-89],[1.848,-87],[1.852,-86],[1.856,-88],[1.860,-86],[1.864,-87],[1.868,-85],[1.872,-88],[1.876,-86],[1.880,-87],[1.884,-85],[1.888,-86],[1.892,-87],[1.896,-85],[1.900,-86],[1.905,-87],[1.910,-88],
  [1.925,-87],[1.928,-85],[1.931,-88],[1.934,-84],[1.937,-86],[1.940,-84],[1.943,-87],[1.946,-85],[1.949,-88],[1.952,-86],[1.955,-89],[1.958,-87],[1.961,-85],[1.964,-88],[1.967,-86],[1.970,-89],[1.973,-87],[1.976,-88],[1.979,-86],[1.982,-90],[1.985,-88],[1.988,-87],[1.991,-89],[1.994,-86],[1.997,-88],[2.000,-90],[2.003,-87],[2.006,-89],[2.009,-88],[2.012,-90],[2.015,-87],[2.018,-89],[2.021,-86],[2.024,-91],[2.026,-89],[2.029,-88],[2.032,-90],[2.035,-87],[2.038,-89],[2.041,-88],[2.044,-87],[2.047,-89],[2.050,-87],[2.053,-88],[2.056,-86],[2.060,-88],[2.064,-87],[2.068,-85],[2.072,-88],[2.076,-86],[2.080,-88],[2.084,-87],[2.088,-89],[2.092,-88],[2.096,-85],[2.100,-87],[2.104,-88],[2.108,-86],[2.112,-88],[2.116,-87],[2.120,-88],[2.124,-87],[2.128,-88],[2.132,-85],[2.136,-86],[2.140,-88],[2.145,-88],
  [2.150,-88],[2.160,-88],[2.170,-87],[2.175,-88],[2.180,-87],[2.185,-87],[2.190,-88],[2.195,-89],[2.200,-87],[2.205,-88],[2.210,-89],[2.215,-87],[2.220,-88],[2.225,-87],[2.230,-88],[2.235,-87],[2.240,-89],[2.245,-86],[2.250,-87],[2.255,-85],[2.260,-86],[2.265,-85],[2.270,-84],[2.275,-85],[2.280,-86],[2.285,-84],[2.290,-85],[2.295,-84],[2.300,-86],[2.305,-84],[2.310,-85],[2.315,-84],[2.320,-85],[2.325,-84],[2.330,-86],[2.335,-85],[2.340,-84],[2.345,-85],[2.350,-84],[2.355,-86],[2.360,-85],[2.365,-84],[2.370,-88],[2.375,-85],[2.380,-84],[2.385,-86],[2.390,-85],[2.395,-84],[2.400,-86],[2.405,-85],[2.410,-84],[2.415,-86],[2.420,-85],[2.425,-87],[2.430,-86],[2.435,-84],[2.440,-83],[2.443,-85],[2.446,-86],[2.450,-87],[2.455,-86],[2.460,-87],[2.465,-85],[2.470,-87],[2.475,-86],[2.480,-87],[2.485,-86],[2.490,-87],[2.495,-86],[2.500,-87],[2.505,-86],[2.510,-87],[2.515,-86],[2.520,-88],[2.525,-87],[2.530,-88],[2.534,-89],[2.538,-88],[2.545,-88],[2.555,-88],[2.565,-88],[2.575,-88],[2.585,-88],[2.600,-86],[2.610,-87],[2.620,-87],[2.635,-86],[2.650,-87],[2.660,-87],
  [2.710,-88],[2.713,-86],[2.716,-87],[2.719,-85],[2.722,-88],[2.725,-86],[2.728,-87],[2.731,-85],[2.734,-88],[2.737,-86],[2.740,-89],[2.743,-87],[2.746,-85],[2.749,-88],[2.752,-86],[2.755,-87],[2.758,-88],[2.761,-86],[2.764,-87],[2.767,-88],[2.770,-85],[2.773,-87],[2.776,-88],[2.779,-86],[2.782,-87],[2.785,-85],[2.788,-88],[2.791,-86],[2.794,-87],[2.797,-85],[2.800,-88],[2.803,-86],[2.806,-84],[2.809,-89],[2.812,-87],[2.815,-85],[2.818,-90],[2.821,-89],[2.824,-86],[2.827,-84],[2.830,-88],[2.833,-85],[2.836,-89],[2.839,-83],[2.842,-86],[2.845,-84],[2.848,-87],[2.851,-85],[2.854,-86],[2.857,-84],[2.860,-87],[2.863,-85],[2.866,-88],[2.869,-86],[2.872,-84],[2.875,-87],[2.878,-85],[2.881,-86],[2.884,-88],[2.887,-84],[2.890,-85],[2.894,-86],[2.898,-87],[2.902,-85],
  [2.918,-86],[2.921,-87],[2.924,-85],[2.927,-88],[2.930,-86],[2.933,-87],[2.936,-85],[2.939,-87],[2.942,-86],[2.945,-88],[2.948,-87],[2.951,-90],[2.953,-89],[2.956,-86],[2.959,-85],[2.962,-87],[2.965,-84],[2.968,-86],[2.971,-85],[2.974,-83],[2.977,-86],[2.980,-84],[2.983,-85],[2.986,-83],[2.989,-86],[2.992,-84],[2.995,-85],[2.998,-83],[3.001,-84],[3.004,-86],[3.007,-83],[3.010,-85],[3.013,-82],[3.016,-84],[3.019,-83],[3.022,-85],[3.025,-84],[3.028,-86],[3.031,-84],[3.034,-85],[3.037,-84],[3.040,-86],[3.043,-85],[3.046,-84],[3.049,-86],[3.052,-84],[3.055,-85],[3.058,-86],[3.061,-84],[3.064,-83],[3.067,-85],[3.070,-84],[3.073,-86],[3.076,-85],[3.080,-84],[3.084,-86],[3.088,-85],[3.092,-87],[3.096,-86],[3.100,-85],[3.104,-87],[3.108,-86],[3.112,-85],[3.116,-87],[3.120,-86],[3.124,-85],[3.128,-84],[3.132,-86],[3.136,-85],[3.139,-88],[3.143,-86],[3.147,-86],
  [3.253,-85],[3.256,-87],[3.259,-86],[3.262,-85],[3.265,-87],[3.268,-86],[3.271,-85],[3.274,-86],[3.277,-87],[3.280,-85],[3.284,-86],[3.288,-84],[3.292,-85],[3.296,-85],
  [3.355,-83],[3.358,-85],[3.361,-86],[3.364,-87],[3.367,-85],[3.370,-88],[3.373,-86],[3.375,-89],[3.378,-85],[3.381,-87],[3.384,-85],[3.388,-86],[3.392,-85],[3.396,-86],[3.400,-84],
  [3.435,-84],[3.440,-86],[3.448,-85],[3.455,-86],[3.462,-85],[3.468,-86],[3.472,-87],[3.478,-86],[3.485,-85],[3.492,-86],[3.500,-85],[3.508,-86],[3.515,-85],[3.522,-86],[3.530,-85],[3.538,-86],[3.545,-85],[3.552,-86],[3.558,-86],[3.562,-84],[3.566,-86],[3.575,-86],[3.585,-86],[3.595,-87],[3.600,-88],[3.605,-87],[3.610,-86],[3.615,-87],[3.620,-86],[3.625,-87],[3.632,-85],[3.638,-86],[3.644,-87],[3.651,-88],[3.658,-87],
  [3.708,-85],[3.711,-84],[3.714,-86],[3.717,-85],[3.720,-84],[3.723,-86],[3.726,-84],[3.729,-85],[3.732,-87],[3.735,-84],[3.738,-86],[3.741,-85],[3.744,-84],[3.747,-86],[3.750,-85],[3.753,-84],[3.756,-86],[3.759,-85],[3.762,-84],[3.765,-87],[3.768,-85],[3.771,-84],[3.774,-86],[3.777,-85],[3.780,-83],[3.783,-82],[3.786,-84],[3.789,-86],[3.792,-85],[3.795,-84],[3.798,-87],[3.801,-85],[3.804,-88],[3.807,-86],[3.810,-84],[3.813,-85],[3.816,-83],[3.819,-84],[3.822,-86],[3.825,-85],[3.828,-84],[3.831,-86],[3.834,-83],[3.837,-84],[3.840,-85],[3.843,-83],[3.846,-86],[3.849,-84],[3.852,-85],[3.855,-84],[3.858,-82],[3.860,-81],[3.862,-83],[3.865,-84],[3.868,-86],[3.871,-85],[3.874,-84],[3.877,-83],[3.880,-85],[3.883,-86],[3.886,-87],[3.889,-89],[3.892,-86],
  [3.915,-85],[3.918,-87],[3.921,-86],[3.924,-88],[3.927,-85],[3.930,-87],[3.933,-86],[3.936,-84],[3.939,-88],[3.942,-83],[3.945,-86],[3.948,-87],[3.951,-85],[3.954,-88],[3.957,-86],[3.960,-84],[3.963,-87],[3.966,-85],[3.969,-88],[3.972,-86],[3.975,-87],[3.978,-85],[3.981,-88],[3.984,-89],[3.987,-86],[3.990,-88],[3.993,-89],[3.996,-87],[3.999,-85],
  [4.002,-84],[4.005,-83],[4.008,-85],[4.011,-84],[4.014,-82],[4.017,-83],[4.020,-85],[4.023,-84],[4.026,-83],[4.029,-85],[4.032,-84],[4.035,-86],[4.038,-83],[4.041,-85],[4.044,-84],[4.047,-82],[4.050,-84],[4.053,-85],[4.056,-83],[4.059,-84],[4.062,-85],[4.065,-83],[4.068,-84],[4.072,-86],[4.076,-85],[4.080,-84],[4.084,-85],[4.088,-84],[4.092,-86],[4.096,-85],[4.100,-84],[4.104,-85],[4.108,-82],[4.111,-84],[4.114,-83],[4.118,-85],[4.122,-87],[4.126,-84],[4.130,-83],[4.134,-85],[4.138,-84],[4.142,-85],[4.146,-84],[4.150,-85],[4.155,-84],
  [4.253,-85],[4.256,-86],[4.259,-84],[4.262,-85],[4.265,-86],[4.268,-84],[4.271,-85],[4.274,-86],[4.277,-84],[4.280,-86],[4.285,-86],[4.300,-86],[4.330,-86],
  [4.350,-86],[4.353,-84],[4.356,-83],[4.359,-85],[4.362,-84],[4.365,-86],[4.368,-83],[4.371,-85],[4.374,-84],[4.378,-86],[4.382,-83],[4.386,-84],[4.390,-85],[4.395,-84],[4.400,-84],
  [4.455,-84],[4.458,-83],[4.461,-85],[4.464,-84],[4.467,-83],[4.470,-85],[4.473,-84],[4.476,-83],[4.480,-85],[4.484,-84],[4.488,-83],[4.492,-85],[4.496,-84],[4.500,-84],
  [4.560,-84],[4.563,-83],[4.566,-85],[4.569,-84],[4.572,-83],[4.575,-85],[4.578,-84],[4.582,-83],[4.586,-85],[4.590,-84],[4.595,-86],[4.705,-82],[4.710,-82],
  [4.714,-83],[4.717,-82],[4.720,-84],[4.723,-83],[4.726,-82],[4.729,-85],[4.732,-83],[4.735,-82],[4.738,-84],[4.741,-86],[4.744,-83],[4.747,-84],[4.750,-82],[4.753,-83],[4.756,-85],[4.759,-84],[4.762,-82],[4.765,-83],[4.768,-84],[4.771,-85],[4.774,-83],[4.777,-82],[4.780,-81],[4.783,-83],[4.786,-84],[4.789,-82],[4.792,-83],[4.795,-85],[4.798,-84],[4.801,-83],[4.804,-86],[4.807,-84],[4.810,-83],[4.813,-82],[4.816,-84],[4.819,-85],[4.822,-83],[4.825,-84],[4.828,-86],[4.831,-85],[4.834,-83],[4.837,-84],[4.840,-87],[4.843,-85],[4.846,-84],[4.849,-86],[4.852,-83],[4.855,-85],[4.858,-87],[4.861,-84],[4.864,-86],[4.867,-85],[4.870,-84],[4.874,-86],[4.878,-85],[4.882,-84],[4.886,-86],[4.890,-85],[4.895,-86],[4.900,-85],
  [4.920,-84],[4.923,-86],[4.926,-83],[4.929,-85],[4.932,-84],[4.935,-82],[4.938,-84],[4.941,-83],[4.944,-85],[4.947,-84],[4.950,-82],[4.953,-85],[4.956,-83],[4.959,-84],[4.962,-86],[4.965,-83],[4.968,-84],[4.971,-82],[4.974,-85],[4.977,-83],[4.980,-84],[4.983,-82],[4.986,-85],[4.989,-83],[4.992,-84],[4.995,-82],[4.998,-84],[5.000,-82]
];

const redSslData = [
  [0.000,-12],[0.003,-13],[0.006,-11],[0.009,-12],[0.012,-13],[0.015,-10],[0.018,-12],[0.021,-11],[0.024,-13],[0.027,-9],[0.030,-11],[0.033,-10],[0.036,-12],[0.039,-9],[0.042,-11],[0.045,-13],[0.048,-12],[0.051,-9],[0.054,-11],[0.057,-12],[0.060,-13],[0.063,-11],[0.066,-12],[0.069,-13],[0.072,-11],[0.075,-12],[0.078,-13],[0.081,-11],[0.084,-12],[0.087,-13],[0.090,-11],[0.093,-12],[0.096,-14],[0.099,-13],[0.102,-15],[0.105,-14],[0.108,-12],[0.111,-13],[0.114,-11],[0.117,-12],[0.120,-10],[0.123,-11],[0.126,-9],[0.129,-7],[0.131,-8],[0.134,-10],[0.137,-11],[0.140,-12],[0.143,-10],[0.146,-11],[0.150,-12],[0.155,-11],
  [0.254,-7],[0.256,-6],[0.259,-8],[0.262,-7],[0.265,-9],[0.268,-8],[0.271,-10],[0.274,-9],[0.277,-8],[0.280,-10],[0.283,-9],[0.286,-8],[0.290,-10],[0.294,-9],[0.298,-8],
  [0.352,-5],[0.355,-7],[0.358,-8],[0.361,-6],[0.364,-8],[0.367,-7],[0.370,-9],[0.373,-8],[0.376,-5],[0.379,-6],[0.382,-8],[0.385,-9],[0.388,-7],[0.391,-8],[0.394,-10],[0.397,-9],[0.400,-8],
  [0.455,-8],[0.458,-6],[0.461,-8],[0.464,-5],[0.467,-7],[0.470,-9],[0.473,-8],[0.476,-6],[0.479,-10],[0.482,-11],[0.485,-8],[0.488,-7],[0.491,-9],[0.494,-8],[0.497,-7],[0.500,-8],
  [0.560,-8],[0.563,-9],[0.566,-7],[0.569,-6],[0.572,-8],[0.575,-10],[0.578,-9],[0.581,-8],[0.584,-11],[0.587,-10],[0.590,-12],[0.593,-9],[0.596,-10],[0.600,-10],
  [0.700,-6],[0.703,-7],[0.706,-8],[0.709,-6],[0.712,-9],[0.715,-7],[0.718,-8],[0.721,-10],[0.724,-7],[0.727,-9],[0.730,-8],[0.733,-6],[0.736,-9],[0.739,-7],[0.742,-10],[0.745,-8],[0.748,-6],[0.751,-9],[0.754,-7],[0.757,-8],[0.760,-10],[0.763,-7],[0.766,-9],[0.769,-6],[0.772,-8],[0.775,-5],[0.777,-4],[0.779,-3],[0.782,-6],[0.785,-8],[0.788,-7],[0.791,-9],[0.794,-6],[0.797,-8],[0.800,-10],[0.803,-7],[0.806,-9],[0.809,-11],[0.812,-8],[0.815,-6],[0.818,-7],[0.821,-9],[0.824,-8],[0.827,-10],[0.830,-7],[0.833,-6],[0.836,-8],[0.839,-9],[0.842,-11],[0.845,-8],[0.848,-7],[0.851,-9],[0.854,-6],[0.857,-8],[0.860,-10],[0.863,-7],[0.866,-8],[0.869,-6],[0.872,-9],[0.875,-7],[0.878,-6],[0.881,-8],[0.884,-5],[0.886,-3],[0.888,-4],[0.890,-6],[0.893,-8],[0.896,-7],[0.899,-9],[0.902,-8],[0.905,-7],
  [0.915,-7],[0.918,-9],[0.921,-6],[0.924,-8],[0.927,-10],[0.930,-7],[0.933,-9],[0.936,-11],[0.939,-8],[0.942,-10],[0.945,-12],[0.948,-9],[0.951,-11],[0.954,-13],[0.957,-10],[0.960,-12],[0.963,-14],[0.966,-11],[0.969,-9],[0.972,-12],[0.975,-10],[0.978,-13],[0.981,-11],[0.984,-14],[0.987,-12],[0.990,-10],[0.993,-13],[0.996,-11],[0.999,-15],[1.002,-15],[1.005,-13],[1.008,-11],[1.011,-14],[1.014,-12],[1.017,-10],[1.020,-13],[1.023,-11],[1.026,-9],[1.029,-12],[1.032,-10],[1.035,-11],
  [1.038,-12],[1.041,-10],[1.044,-13],[1.047,-11],[1.050,-12],[1.053,-10],[1.056,-13],[1.059,-11],[1.062,-14],[1.065,-12],[1.068,-10],[1.071,-11],[1.074,-9],[1.077,-12],[1.080,-11],[1.084,-13],[1.088,-10],[1.092,-12],[1.096,-11],[1.100,-10],[1.104,-12],[1.108,-8],[1.111,-11],[1.114,-10],[1.118,-13],[1.122,-11],[1.126,-12],[1.130,-10],[1.134,-12],[1.138,-11],[1.142,-13],[1.146,-11],[1.150,-12],[1.155,-11],
  [1.258,-13],[1.261,-11],[1.264,-9],[1.267,-12],[1.270,-10],[1.273,-13],[1.276,-11],[1.279,-12],[1.282,-10],[1.285,-12],[1.288,-11],[1.292,-13],[1.296,-12],[1.300,-11],[1.305,-12],
  [1.354,-12],[1.357,-10],[1.360,-12],[1.363,-11],[1.366,-13],[1.369,-12],[1.372,-11],[1.375,-13],[1.378,-14],[1.381,-12],[1.384,-11],[1.388,-13],[1.392,-14],[1.396,-12],[1.400,-11],
  [1.456,-9],[1.459,-11],[1.462,-10],[1.465,-12],[1.468,-9],[1.471,-13],[1.474,-11],[1.477,-10],[1.480,-12],[1.483,-9],[1.486,-11],[1.490,-10],[1.494,-12],[1.498,-11],[1.502,-10],
  [1.565,-7],[1.568,-8],[1.571,-7],[1.574,-9],[1.577,-8],[1.580,-10],[1.583,-7],[1.586,-8],[1.589,-9],[1.592,-8],[1.595,-6],[1.598,-8],[1.602,-9],[1.606,-8],[1.610,-9],
  [1.687,-10],[1.690,-9],[1.693,-11],[1.696,-8],[1.699,-12],[1.702,-10],[1.705,-9],[1.708,-11],[1.711,-8],[1.714,-12],[1.717,-10],[1.720,-7],[1.723,-9],[1.726,-11],[1.729,-8],[1.732,-10],[1.735,-12],[1.738,-9],[1.741,-7],[1.744,-10],[1.747,-6],[1.750,-8],[1.753,-11],[1.756,-9],[1.759,-7],[1.762,-10],[1.765,-12],[1.768,-8],[1.771,-10],[1.774,-9],[1.777,-7],[1.780,-10],[1.783,-8],[1.786,-11],[1.789,-9],[1.792,-7],[1.795,-10],[1.798,-8],[1.801,-9],[1.804,-7],[1.807,-10],[1.810,-8],[1.813,-9],[1.816,-7],[1.819,-10],[1.822,-8],[1.825,-6],[1.828,-5],[1.831,-7],[1.834,-9],[1.837,-8],[1.840,-10],[1.844,-7],[1.848,-9],[1.852,-8],[1.856,-10],[1.860,-9],[1.864,-8],[1.868,-10],[1.872,-9],[1.876,-11],[1.880,-8],[1.884,-9],[1.888,-10],[1.892,-8],[1.896,-9],[1.900,-10],[1.905,-8],[1.910,-9],
  [1.915,-8],[1.918,-6],[1.921,-9],[1.924,-7],[1.927,-10],[1.930,-8],[1.933,-6],[1.936,-9],[1.939,-11],[1.942,-7],[1.945,-10],[1.948,-12],[1.951,-8],[1.954,-6],[1.957,-11],[1.960,-9],[1.963,-12],[1.966,-10],[1.969,-7],[1.972,-11],[1.975,-13],[1.978,-10],[1.981,-12],[1.984,-14],[1.987,-11],[1.990,-13],[1.993,-15],[1.996,-12],[1.999,-14],[2.002,-11],[2.005,-13],[2.008,-12],[2.011,-14],[2.014,-11],[2.017,-13],[2.020,-12],[2.023,-14],[2.026,-13],[2.029,-11],[2.032,-12],[2.035,-14],[2.038,-13],[2.041,-11],[2.044,-12],[2.047,-10],[2.050,-11],[2.053,-13],[2.056,-12],[2.060,-10],[2.064,-8],[2.068,-10],[2.072,-9],[2.076,-11],[2.080,-8],[2.084,-10],[2.088,-9],[2.092,-8],[2.096,-10],[2.100,-9],[2.104,-8],[2.108,-10],[2.112,-9],[2.116,-7],[2.120,-8],[2.124,-10],[2.128,-9],[2.132,-8],[2.136,-10],[2.140,-9],[2.145,-10],
  [2.150,-10],[2.160,-10],[2.175,-11],[2.190,-12],[2.198,-14],[2.201,-11],[2.205,-12],[2.210,-11],[2.215,-13],[2.220,-11],[2.225,-12],[2.230,-11],[2.235,-13],[2.240,-12],[2.245,-11],[2.250,-13],[2.255,-11],[2.258,-9],[2.262,-10],[2.266,-9],[2.270,-11],[2.274,-10],[2.278,-9],[2.282,-10],[2.286,-11],[2.290,-10],[2.294,-9],[2.298,-11],[2.302,-10],[2.306,-8],[2.310,-10],[2.314,-11],[2.318,-9],[2.322,-11],[2.326,-12],[2.330,-11],[2.334,-13],[2.338,-11],[2.342,-10],[2.346,-11],[2.350,-12],[2.354,-11],[2.358,-13],[2.362,-14],[2.366,-11],[2.370,-9],[2.374,-11],[2.378,-12],[2.382,-11],[2.386,-13],[2.390,-11],[2.394,-12],[2.398,-11],[2.402,-10],[2.406,-11],[2.410,-12],[2.414,-11],[2.418,-13],[2.422,-11],[2.426,-12],[2.430,-11],[2.434,-10],[2.438,-11],[2.442,-12],[2.446,-11],[2.450,-13],[2.454,-11],[2.458,-9],[2.462,-10],[2.466,-13],[2.470,-12],[2.474,-15],[2.478,-13],[2.482,-15],[2.486,-14],[2.490,-15],[2.494,-13],[2.498,-15],[2.502,-14],[2.506,-15],[2.510,-13],[2.514,-15],[2.518,-14],[2.522,-15],[2.526,-13],[2.530,-16],[2.534,-15],[2.537,-11],[2.540,-12],[2.543,-13],[2.546,-15],[2.550,-13],[2.555,-13],[2.560,-13],[2.566,-13],[2.572,-14],[2.578,-13],[2.584,-14],[2.590,-14],[2.596,-14],[2.602,-13],[2.608,-14],[2.614,-14],[2.620,-12],[2.626,-14],[2.632,-14],[2.638,-14],[2.644,-13],[2.650,-10],[2.655,-11],[2.660,-11],[2.665,-11],[2.675,-11],[2.685,-11],[2.695,-11],[2.700,-12],[2.705,-10],[2.708,-14],[2.711,-15],[2.714,-11],[2.718,-10],[2.722,-11],[2.726,-10],
  [2.730,-9],[2.733,-7],[2.736,-8],[2.739,-6],[2.742,-9],[2.745,-7],[2.748,-10],[2.751,-8],[2.754,-6],[2.757,-9],[2.760,-11],[2.763,-7],[2.766,-10],[2.769,-8],[2.772,-12],[2.775,-9],[2.778,-7],[2.781,-11],[2.784,-8],[2.787,-10],[2.790,-13],[2.793,-9],[2.796,-12],[2.799,-8],[2.802,-10],[2.805,-7],[2.808,-13],[2.811,-11],[2.814,-8],[2.817,-6],[2.820,-9],[2.823,-12],[2.826,-10],[2.829,-8],[2.832,-13],[2.835,-9],[2.838,-6],[2.841,-10],[2.844,-8],[2.847,-11],[2.850,-13],[2.853,-7],[2.856,-10],[2.859,-12],[2.862,-8],[2.865,-13],[2.868,-7],[2.871,-14],[2.874,-10],[2.877,-8],[2.880,-12],[2.883,-7],[2.886,-10],[2.889,-9],[2.892,-8],[2.895,-10],[2.898,-9],[2.902,-7],[2.906,-9],[2.910,-8],[2.915,-9],
  [2.920,-10],[2.923,-7],[2.926,-11],[2.929,-8],[2.932,-13],[2.935,-10],[2.938,-15],[2.941,-12],[2.944,-16],[2.947,-11],[2.950,-14],[2.953,-17],[2.956,-12],[2.959,-15],[2.962,-13],[2.965,-18],[2.968,-14],[2.971,-11],[2.974,-16],[2.977,-13],[2.980,-17],[2.983,-12],[2.986,-15],[2.989,-18],[2.992,-14],[2.995,-16],[2.998,-13],[3.000,-19],[3.003,-15],[3.006,-17],[3.009,-12],[3.012,-16],[3.015,-14],[3.018,-18],[3.021,-13],[3.024,-16],[3.027,-12],[3.030,-15],[3.033,-11],[3.036,-14],[3.039,-10],[3.042,-13],[3.045,-11],[3.048,-10],[3.051,-12],
  [3.054,-9],[3.057,-11],[3.060,-8],[3.063,-10],[3.066,-6],[3.069,-9],[3.072,-7],[3.075,-10],[3.078,-8],[3.081,-6],[3.084,-9],[3.087,-7],[3.090,-8],[3.093,-10],[3.096,-9],[3.099,-8],[3.102,-6],[3.105,-9],[3.108,-11],[3.111,-12],[3.114,-8],[3.117,-10],[3.120,-9],[3.124,-8],[3.128,-10],[3.132,-9],[3.136,-8],[3.140,-10],[3.145,-9],[3.150,-10],
  [3.250,-10],[3.253,-9],[3.256,-11],[3.259,-10],[3.262,-9],[3.265,-10],[3.268,-8],[3.271,-10],[3.274,-9],[3.278,-10],[3.282,-11],[3.286,-9],[3.290,-10],[3.295,-9],[3.300,-10],
  [3.350,-12],[3.352,-13],[3.354,-14],[3.357,-11],[3.360,-10],[3.363,-12],[3.366,-10],[3.369,-11],[3.372,-12],[3.375,-10],[3.378,-8],[3.381,-7],[3.384,-10],[3.388,-12],[3.392,-11],[3.396,-10],[3.400,-11],
  [3.435,-12],[3.440,-12],[3.445,-11],[3.450,-10],[3.455,-11],[3.462,-11],[3.470,-11],[3.478,-12],[3.485,-11],[3.492,-11],[3.500,-11],[3.508,-11],[3.515,-12],[3.522,-11],[3.528,-10],[3.535,-10],[3.542,-11],[3.550,-10],[3.557,-11],[3.564,-10],[3.570,-9],[3.575,-10],[3.582,-11],[3.590,-10],[3.597,-11],[3.604,-10],[3.611,-10],[3.618,-11],[3.625,-9],[3.630,-10],[3.640,-10],[3.650,-10],[3.660,-10],[3.667,-10],
  [3.705,-9],[3.710,-9],[3.713,-10],[3.716,-11],[3.719,-9],[3.722,-12],[3.725,-10],[3.728,-13],[3.731,-11],[3.734,-10],[3.737,-12],[3.740,-9],[3.743,-11],[3.746,-13],[3.749,-10],[3.752,-12],[3.755,-9],[3.758,-11],[3.761,-8],[3.764,-10],[3.767,-12],[3.770,-9],[3.773,-11],[3.776,-8],[3.779,-10],[3.782,-12],[3.785,-9],[3.788,-11],[3.791,-7],[3.794,-10],[3.797,-8],[3.800,-11],[3.803,-9],[3.806,-12],[3.809,-8],[3.812,-10],[3.815,-13],[3.818,-9],[3.821,-11],[3.824,-8],[3.827,-12],[3.830,-10],[3.833,-7],[3.836,-9],[3.839,-11],[3.842,-13],[3.845,-9],[3.848,-12],[3.851,-10],[3.854,-8],[3.857,-11],[3.860,-14],[3.862,-6],[3.864,-7],[3.867,-9],[3.870,-11],[3.873,-8],[3.876,-10],[3.879,-12],[3.882,-9],[3.885,-6],[3.887,-7],[3.890,-10],[3.893,-8],[3.896,-11],[3.899,-9],[3.902,-7],[3.905,-6],[3.908,-9],
  [3.911,-11],[3.914,-9],[3.917,-12],[3.920,-10],[3.923,-13],[3.926,-11],[3.929,-14],[3.932,-12],[3.935,-10],[3.938,-13],[3.941,-11],[3.944,-9],[3.947,-12],[3.950,-10],[3.953,-13],[3.956,-11],[3.959,-9],[3.962,-12],[3.965,-10],[3.968,-8],[3.971,-11],[3.974,-9],[3.977,-12],[3.980,-10],[3.983,-8],[3.986,-9],[3.989,-11],[3.992,-7],[3.995,-9],[3.998,-8],[4.001,-10],[4.004,-8],[4.007,-9],[4.010,-6],[4.012,-8],[4.015,-10],[4.018,-9],[4.021,-8],[4.024,-10],[4.027,-7],[4.030,-9],[4.033,-8],[4.036,-10],[4.039,-9],[4.042,-7],[4.045,-8],[4.048,-10],[4.051,-9],[4.054,-8],[4.057,-10],[4.060,-9],[4.064,-7],[4.068,-9],[4.072,-8],[4.076,-10],[4.080,-9],[4.084,-7],[4.088,-8],[4.092,-9],[4.096,-10],[4.100,-8],[4.104,-7],[4.108,-9],[4.112,-8],[4.116,-10],[4.120,-11],[4.124,-9],[4.128,-11],[4.132,-12],[4.136,-11],[4.140,-13],[4.144,-11],[4.148,-12],[4.155,-12],
  [4.253,-13],[4.255,-14],[4.258,-15],[4.261,-13],[4.264,-16],[4.267,-15],[4.270,-17],[4.273,-16],[4.276,-17],[4.279,-15],[4.282,-17],[4.285,-16],[4.290,-17],[4.295,-16],
  [4.350,-14],[4.353,-13],[4.356,-12],[4.359,-14],[4.362,-11],[4.365,-13],[4.368,-10],[4.371,-12],[4.374,-11],[4.377,-13],[4.380,-12],[4.384,-11],[4.388,-14],[4.392,-12],[4.396,-13],[4.400,-12],
  [4.455,-13],[4.458,-12],[4.461,-11],[4.464,-13],[4.467,-12],[4.470,-14],[4.473,-12],[4.476,-13],[4.480,-12],[4.484,-13],[4.488,-12],[4.492,-13],[4.496,-12],[4.500,-13],
  [4.555,-14],[4.560,-13],[4.563,-14],[4.566,-12],[4.569,-13],[4.572,-14],[4.575,-12],[4.578,-13],[4.581,-14],[4.584,-12],[4.587,-14],[4.590,-13],[4.595,-14],[4.600,-14],[4.608,-14],
  [4.705,-12],[4.710,-12],[4.713,-11],[4.716,-13],[4.719,-12],[4.722,-11],[4.725,-14],[4.728,-12],[4.731,-11],[4.734,-13],[4.737,-12],[4.740,-11],[4.743,-14],[4.746,-12],[4.749,-11],[4.752,-13],[4.755,-12],[4.758,-14],[4.761,-11],[4.764,-13],[4.767,-12],[4.770,-14],[4.773,-13],[4.776,-11],[4.779,-13],[4.782,-12],[4.785,-14],[4.788,-13],[4.791,-12],[4.794,-14],[4.797,-11],[4.800,-13],[4.803,-12],[4.806,-14],[4.809,-13],[4.812,-11],[4.815,-12],[4.818,-13],[4.821,-11],[4.824,-12],[4.827,-13],[4.830,-12],[4.834,-11],[4.838,-12],[4.842,-11],[4.846,-12],[4.850,-13],[4.854,-11],[4.858,-12],[4.862,-11],[4.866,-13],[4.870,-12],[4.874,-11],[4.878,-12],[4.882,-11],[4.886,-12],[4.890,-11],[4.895,-12],[4.900,-11],[4.905,-12],
  [4.920,-12],[4.923,-11],[4.926,-10],[4.929,-12],[4.932,-9],[4.935,-11],[4.938,-13],[4.941,-12],[4.944,-11],[4.947,-13],[4.950,-12],[4.953,-10],[4.956,-11],[4.959,-12],[4.962,-13],[4.965,-11],[4.968,-12],[4.971,-13],[4.974,-11],[4.977,-12],[4.980,-13],[4.983,-12],[4.986,-11],[4.989,-12],[4.992,-13],[4.995,-12],[4.998,-11],[5.000,-12]
];

const seriesNames = ['STA Sensor (0.00083 K rms)', 'STA Sensor (0.0011 K rms)', 'SSL Sensor (0.0017 K rms)', 'SSL Sensor (0.0029 K rms)'];
const yAxisNames = ['Green CCD Temp (C)\nSTA sensor (controlled)', 'Red CCD Temp (C)\nSTA sensor (controlled)', 'Green CCD Temp (C)\nSSL sensor', 'Red CCD Temp (C)\nSSL sensor'];
const offsetLabels = ['\u22121e2', '\u22121e2', '\u22121.01e2', '\u22121.008e2'];
const greenStaTicks = [-2, 0, 2, 4];
const redStaTicks = [-4, -2, 0, 2, 4];
const greenSslTicks = [-90, -88, -86, -84, -82];
const redSslTicks = [-20, -15, -10, -5];

const font = 'DejaVu Sans';
const panelTops = [36, 293, 549, 805];
const panelHeight = 221;
const panels = [
  { data: greenStaData, ticks: greenStaTicks, min: -3.43, max: 5.63, color: '#006400', bg: '#e5f0e3' },
  { data: redStaData, ticks: redStaTicks, min: -5.43, max: 4.45, color: '#8b0000', bg: '#e5f0e3' },
  { data: greenSslData, ticks: greenSslTicks, min: -91.49, max: -80.51, color: '#228b22', bg: 'transparent' },
  { data: redSslData, ticks: redSslTicks, min: -20.85, max: -2.12, color: '#b22222', bg: 'transparent' },
];

const tickLabel = (v) => (v / 1000).toFixed(3).replace('-', '\u2212');

const chart = echarts.init(document.getElementById('chart'), null, { renderer: 'canvas' });

const graphics = [];
panels.forEach((p, i) => {
  graphics.push({
    type: 'text', left: 118, top: panelTops[i] - 15, z: 10,
    style: { text: offsetLabels[i], fontSize: 13, fontFamily: font, fill: '#000' },
  });
  graphics.push({
    type: 'text', right: 1469 - 1194, top: panelTops[i] + panelHeight - 15, z: 10,
    style: { text: 'Junk excluded', fontSize: 11, fontFamily: font, fill: '#2f4f4f', backgroundColor: 'rgba(255,255,255,0.7)', padding: [0, 2] },
  });
});
graphics.push({
  type: 'text', right: 1469 - 1197, top: 1068,
  style: { text: 'KPF QLP: 2025-07-28 03:46:07 UT', fontSize: 11, fontFamily: font, fill: '#aaaaaa' },
});

chart.setOption({
  animation: false,
  textStyle: { fontFamily: font },
  title: {
    text: 'CCD Temperatures: 2024-10-01 to 2024-10-06',
    left: 657, top: 5, textAlign: 'center',
    textStyle: { fontSize: 25, fontWeight: 'normal', color: '#000', fontFamily: font },
  },
  grid: panels.map((p, i) => ({
    left: 118, top: panelTops[i], width: 1078, height: panelHeight,
    show: true, backgroundColor: p.bg, borderColor: '#000', borderWidth: 1,
  })),
  legend: panels.map((p, i) => ({
    data: [seriesNames[i]], right: 6, top: panelTops[i] + 8,
    borderColor: '#cccccc', borderWidth: 1, borderRadius: 3, padding: [4, 7, 4, 6],
    backgroundColor: '#fff', itemWidth: 29, itemHeight: 6,
    lineStyle: { width: 1 },
    textStyle: { fontSize: 13.7, color: '#000', fontFamily: font, padding: [0, 0, 0, 4] },
  })),
  xAxis: panels.map((p, i) => ({
    type: 'value', gridIndex: i, min: 0, max: 5, interval: 0.5,
    axisLine: { show: true, onZero: false, lineStyle: { color: '#000', width: 1 } },
    axisTick: { show: true, length: 4, lineStyle: { color: '#000' } },
    axisLabel: { show: i === 3, fontSize: 13, color: '#000', margin: 7, formatter: (v) => v.toFixed(1) },
    splitLine: { show: true, lineStyle: { color: '#d6d6d6', width: 1 } },
    name: i === 3 ? 'Days since 2024-10-01 00:00 UT' : '',
    nameLocation: 'middle', nameGap: 28,
    nameTextStyle: { fontSize: 19.5, color: '#000', fontFamily: font },
  })),
  yAxis: panels.map((p, i) => ({
    type: 'value', gridIndex: i, min: p.min, max: p.max,
    axisLine: { show: true, lineStyle: { color: '#000', width: 1 } },
    axisTick: { show: true, length: 4, customValues: p.ticks, lineStyle: { color: '#000' } },
    axisLabel: { fontSize: 13, color: '#000', margin: 7, customValues: p.ticks, formatter: tickLabel },
    splitLine: { show: true, lineStyle: { color: '#d6d6d6', width: 1 } },
    name: yAxisNames[i], nameLocation: 'middle', nameRotate: 90, nameGap: 66,
    nameTextStyle: { fontSize: 19, color: '#000', lineHeight: 23, fontFamily: font, align: 'center' },
  })),
  series: panels.map((p, i) => ({
    name: seriesNames[i], type: 'line', xAxisIndex: i, yAxisIndex: i,
    data: p.data, symbol: 'circle', symbolSize: 5, showSymbol: true,
    color: p.color,
    lineStyle: { color: p.color, width: 0.7, opacity: 0.85 },
    itemStyle: { color: p.color },
    emphasis: { disabled: true },
    clip: true, z: 3,
  })),
  graphic: graphics,
});
</script>
</body>
</html>
